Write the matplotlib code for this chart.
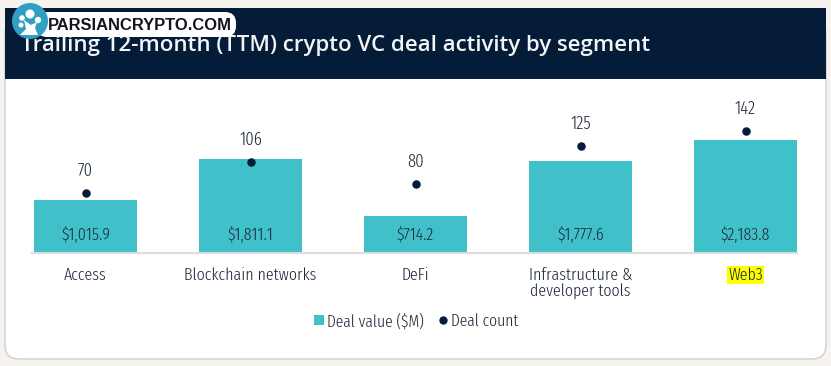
import matplotlib
matplotlib.use("Agg")
import matplotlib.pyplot as plt
from matplotlib.patches import FancyBboxPatch, Rectangle, Circle, Polygon
from matplotlib.lines import Line2D

W, H = 831, 366

categories = ["Access", "Blockchain networks", "DeFi",
              "Infrastructure &\ndeveloper tools", "Web3"]
deal_value = [1015.9, 1811.1, 714.2, 1777.6, 2183.8]
deal_count = [70, 106, 80, 125, 142]
value_labels = ["$1,015.9", "$1,811.1", "$714.2", "$1,777.6", "$2,183.8"]

NAVY = "#051c38"
TEAL = "#40c1c9"
TEXT = "#1e2a3a"
NARROW = ["Fira Sans Extra Condensed", "Fira Sans Condensed", "Roboto", "DejaVu Sans"]
plt.rcParams["font.weight"] = 300

fig = plt.figure(figsize=(W / 100, H / 100), dpi=100, facecolor="#f6f3ee")

# background layer in pixel coordinates (y pointing down)
bg = fig.add_axes([0, 0, 1, 1], zorder=0)
bg.set_xlim(0, W)
bg.set_ylim(H, 0)
bg.axis("off")
bg.add_patch(FancyBboxPatch((5, 20), 821, 339, boxstyle="round,pad=0,rounding_size=14",
                            fc="white", ec="#cfcfcf", lw=1))
bg.add_patch(Rectangle((5, 8), 821, 71, fc=NAVY, ec="none"))
bg.text(21, 45, "Trailing 12-month (TTM) crypto VC deal activity by segment",
        color="#f2f4f6", fontsize=16, fontweight="semibold", family="Open Sans",
        va="center", ha="left")

# chart axes: baseline at y=253, top at y=100, x from 4 to 828 px
ax = fig.add_axes([4 / W, (H - 253) / H, 824 / W, 153 / H], zorder=1)
ax.patch.set_alpha(0)
x = list(range(len(categories)))
ax.bar(x, deal_value, width=0.625, color=TEAL, zorder=2)
ax.set_xlim((4.5 - 86) / 165, (828.5 - 86) / 165)
ax.set_ylim(0, 2954)
ax.set_yticks([])
ax.set_xticks(x)
ax.set_xticklabels(categories, family=NARROW, fontsize=12.5, color=TEXT, linespacing=1.05)
ax.tick_params(axis="x", length=0, pad=10)
for side in ["top", "left", "right"]:
    ax.spines[side].set_visible(False)
ax.spines["bottom"].set_color("#dcdcdc")
ax.spines["bottom"].set_linewidth(1.5)
ax.spines["bottom"].set_bounds((32 - 86) / 165, (797 - 86) / 165)

# highlight on the last label
ax.get_xticklabels()[-1].set_bbox(dict(facecolor="#ffff00", edgecolor="none", pad=1))

for xi, v, lab in zip(x, deal_value, value_labels):
    ax.annotate(lab, (xi, 0), xytext=(0, 13), textcoords="offset points", ha="center",
                va="center", family=NARROW, fontsize=12.5, color=TEXT, zorder=3)

ax2 = ax.twinx()
ax2.patch.set_alpha(0)
ax2.set_ylim(0, 178.5)
ax2.set_yticks([])
ax2.axis("off")
ax2.scatter(x, deal_count, s=26, color=NAVY, zorder=4, clip_on=False)
for xi, c in zip(x, deal_count):
    ax2.annotate(str(c), (xi, c), xytext=(0, 16), textcoords="offset points", ha="center",
                 va="center", family=NARROW, fontsize=13, color=TEXT)

handles = [Rectangle((0, 0), 1, 1, fc=TEAL, ec="none"),
           Line2D([], [], marker="o", ls="none", color=NAVY, markersize=5)]
fig.legend(handles, ["Deal value ($M)", "Deal count"], loc="center",
           bbox_to_anchor=(416 / W, 1 - 321 / H), ncol=2, frameon=False,
           prop={"family": NARROW, "size": 12.2, "weight": 300}, labelcolor=TEXT,
           handlelength=0.6, handleheight=0.6, handletextpad=0.2, columnspacing=0.8)

# watermark badge on top
top = fig.add_axes([0, 0, 1, 1], zorder=5)
top.set_xlim(0, W)
top.set_ylim(H, 0)
top.axis("off")
top.add_patch(FancyBboxPatch((36, 12), 200, 25, boxstyle="round,pad=0,rounding_size=11",
                             fc="white", ec="none"))
top.text(48, 25, "PARSIANCRYPTO.COM", family="Liberation Sans", fontsize=11.9,
         fontweight="bold", color="#14141e", va="center", ha="left")
top.add_patch(Circle((30, 21), 18, fc="#2f9fc4", ec="none"))
top.add_patch(Polygon([(20, 35), (38, 35), (35, 28), (37, 22), (31, 25), (24, 20), (26, 29)],
                      fc="white", ec="none"))
for cx, cy, r in [(30, 14, 4.5), (22, 18, 2.8), (38, 20, 3.2), (21, 25, 2.5)]:
    top.add_patch(Circle((cx, cy), r, fc="white", ec="none"))

fig.savefig("out.png", dpi=100, facecolor=fig.get_facecolor())
